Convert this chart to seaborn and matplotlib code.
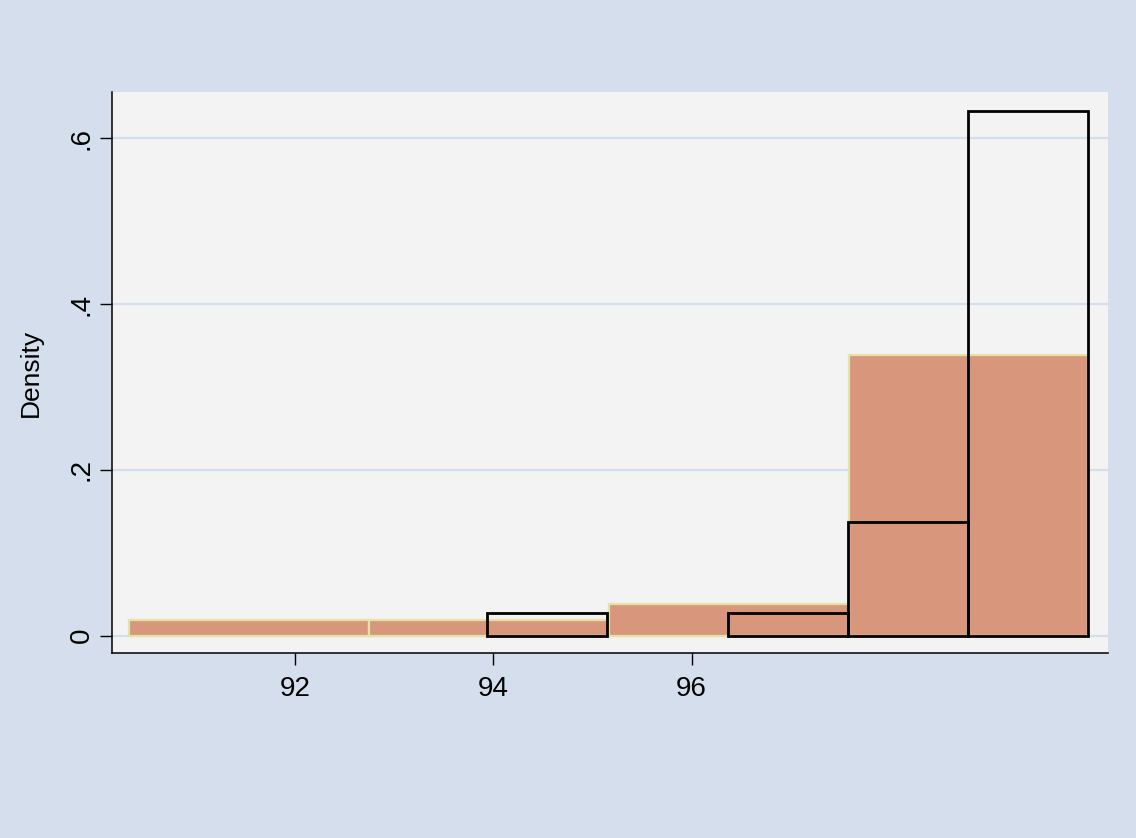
import matplotlib
matplotlib.use("Agg")
import matplotlib.pyplot as plt
import seaborn as sns
import numpy as np

# Two histograms of the same measure, on density scale
wide_edges = [90.33, 92.75, 95.17, 97.59, 100.0]
wide_density = [0.0188, 0.0188, 0.0376, 0.3384]

narrow_edges = [93.94, 95.15, 96.37, 97.58, 98.79, 100.0]
narrow_density = [0.0275, 0.0, 0.0275, 0.1375, 0.6326]

x_ticks = [92, 94, 96]
y_ticks = [0, 0.2, 0.4, 0.6]
y_tick_labels = ["0", ".2", ".4", ".6"]

outer_bg = "#d5deec"
plot_bg = "#f3f3f3"
fill_color = "#d8977c"
fill_edge = "#e4e3a4"

sns.set_theme(style="white")
plt.rcParams["font.family"] = ["Liberation Sans", "DejaVu Sans"]

fig = plt.figure(figsize=(11.36, 8.38), dpi=100, facecolor=outer_bg)
ax = fig.add_axes([0.0986, 0.2208, 0.8768, 0.6694])
ax.set_facecolor(plot_bg)

def centers(edges):
    e = np.asarray(edges)
    return (e[:-1] + e[1:]) / 2

sns.histplot(x=centers(wide_edges), weights=wide_density, bins=wide_edges,
             stat="count", color=fill_color, edgecolor=fill_edge,
             linewidth=1.6, alpha=1, ax=ax, zorder=2)

n_before = len(ax.patches)
sns.histplot(x=centers(narrow_edges), weights=narrow_density, bins=narrow_edges,
             stat="count", fill=False, edgecolor="black", color="black",
             linewidth=2.0, ax=ax, zorder=3)
for p in ax.patches[n_before:]:
    if p.get_height() == 0:
        p.set_visible(False)

ax.set_xlim(90.155, 100.2)
ax.set_ylim(-0.021, 0.656)
ax.set_xticks(x_ticks)
ax.set_xticklabels([str(t) for t in x_ticks])
ax.set_yticks(y_ticks)
ax.set_yticklabels(y_tick_labels, rotation=90, va="center")
ax.set_xlabel("")
ax.set_ylabel("Density", fontsize=19, color="black")
ax.yaxis.set_label_coords(-0.0693, 0.5)

ax.grid(axis="y", color=outer_bg, linewidth=1.6, zorder=0)
ax.grid(axis="x", visible=False)
ax.set_axisbelow(True)

for side in ("top", "right"):
    ax.spines[side].set_visible(False)
for side in ("left", "bottom"):
    ax.spines[side].set_color("black")
    ax.spines[side].set_linewidth(1.1)

ax.tick_params(axis="both", which="major", direction="out", length=8.6,
               width=1.0, color="black", labelsize=20, labelcolor="black",
               left=True, bottom=True)
ax.tick_params(axis="x", pad=8)
ax.tick_params(axis="y", pad=4)

fig.savefig("out.png", dpi=100, facecolor=outer_bg)
